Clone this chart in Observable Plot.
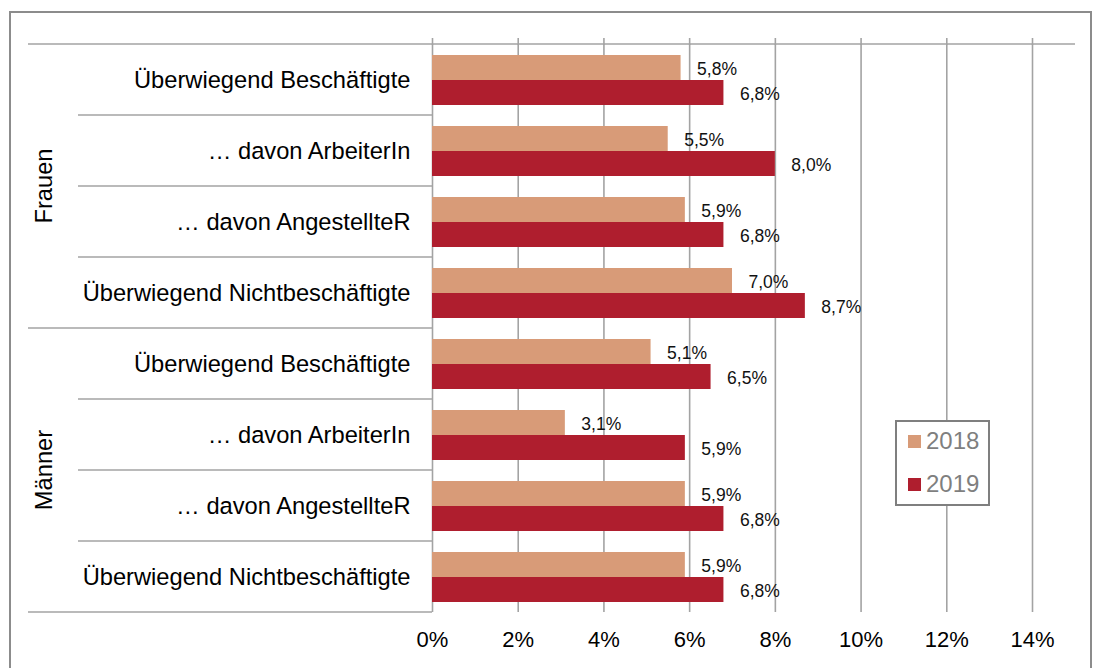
<!DOCTYPE html>
<html><head><meta charset="utf-8">
<script src="https://cdn.jsdelivr.net/npm/d3@7"></script>
<script src="https://cdn.jsdelivr.net/npm/@observablehq/plot@0.6"></script>
<style>
body{margin:0;background:#fff;overflow:hidden;width:1104px;height:668px;position:relative;font-family:"Liberation Sans",Arial,sans-serif}
#frame{position:absolute;left:9px;top:11px;width:1083px;height:700px;border:2px solid #8c8c8c;box-sizing:border-box}
#chart{position:absolute;left:0;top:0}
#legend{position:absolute;left:895px;top:420px;width:95px;height:86px;border:2px solid #7f7f7f;background:#fff;box-sizing:border-box}
.lrow{position:absolute;left:11px;height:26px;display:flex;align-items:center;font-size:24px;color:#7f7f7f}
.sw{width:13px;height:13px;margin-right:5px}
</style></head><body>
<div id="frame"></div><div id="chart"></div><div id="legend"></div>
<script>
const groups = ["Frauen", "Männer"];
const categories = ["Überwiegend Beschäftigte", "… davon ArbeiterIn", "… davon AngestellteR", "Überwiegend Nichtbeschäftigte"];
const years = ["2018", "2019"];
const values2018 = [5.8, 5.5, 5.9, 7.0, 5.1, 3.1, 5.9, 5.9];
const values2019 = [6.8, 8.0, 6.8, 8.7, 6.5, 5.9, 6.8, 6.8];
const xTicks = [0, 2, 4, 6, 8, 10, 12, 14];
const colors = ["#d89b78", "#af1e2e"];

const keys = [];
groups.forEach(g => categories.forEach(c => keys.push(g + "|" + c)));
const rows = [];
keys.forEach((k, i) => {
  rows.push({key: k, year: years[0], value: values2018[i]});
  rows.push({key: k, year: years[1], value: values2019[i]});
});
const fmt = v => v.toFixed(1).replace(".", ",") + "%";
const gridColor = "#a3a3a3";

const chart = Plot.plot({
  width: 1104, height: 668,
  marginLeft: 432, marginRight: 72, marginTop: 43, marginBottom: 56,
  style: {fontFamily: "Liberation Sans, Arial, sans-serif", background: "transparent", color: "#000"},
  x: {domain: [0, 14], ticks: xTicks, label: null},
  y: {domain: years, paddingInner: 0, paddingOuter: 0.42, axis: null},
  fy: {domain: keys, padding: 0, axis: null, label: null},
  color: {domain: years, range: colors},
  marks: [
    Plot.ruleX(xTicks, {x: d => d, stroke: gridColor, strokeWidth: 1.6}),
    Plot.axisX({anchor: "top", ticks: xTicks, tickSize: 7, tickFormat: () => "", stroke: gridColor, strokeWidth: 1.6, label: null}),
    Plot.barX(rows, {x: "value", y: "year", fy: "key", fill: "year"}),
    Plot.text(rows, {x: "value", y: "year", fy: "key", text: d => fmt(d.value), dx: 16, dy: 1, textAnchor: "start", fontSize: 17.5, fill: "#111"}),
    Plot.axisX({anchor: "bottom", ticks: xTicks, tickSize: 0, tickPadding: 19, tickFormat: d => d + "%", fontSize: 22, label: null}),
    Plot.axisFy({anchor: "left", tickSize: 0, tickPadding: 22, tickFormat: k => k.split("|")[1], fontSize: 23.7, label: null})
  ]
});
document.getElementById("chart").appendChild(chart);

// separators and group labels from the plot's scales
const svg = d3.select(chart);
const fy = chart.scale("fy");
const xs = chart.scale("x");
const x0 = xs.apply(0);
const bw = fy.bandwidth;
const g = svg.append("g").attr("stroke", gridColor).attr("stroke-width", 1.6);
keys.forEach((k, i) => {
  const y = fy.apply(k);
  const isGroupStart = i % categories.length === 0;
  g.append("line").attr("x1", isGroupStart ? 28 : 78).attr("x2", i === 0 ? 1075 : x0).attr("y1", y).attr("y2", y);
});
const yEnd = fy.apply(keys[keys.length - 1]) + bw;
g.append("line").attr("x1", 28).attr("x2", x0).attr("y1", yEnd).attr("y2", yEnd);
groups.forEach((gr, gi) => {
  const yA = fy.apply(keys[gi * categories.length]);
  const yB = fy.apply(keys[gi * categories.length + categories.length - 1]) + bw;
  svg.append("text").attr("transform", `translate(52,${(yA + yB) / 2}) rotate(-90)`)
    .attr("text-anchor", "middle").attr("font-size", 23.7).attr("fill", "#000")
    .attr("font-family", "Liberation Sans, Arial, sans-serif").text(gr);
});

// legend
const leg = document.getElementById("legend");
years.forEach((yr, i) => {
  const r = document.createElement("div");
  r.className = "lrow";
  r.style.top = (i === 0 ? 6 : 49) + "px";
  r.innerHTML = `<div class="sw" style="background:${colors[i]}"></div><span>${yr}</span>`;
  leg.appendChild(r);
});
</script>
</body></html>
